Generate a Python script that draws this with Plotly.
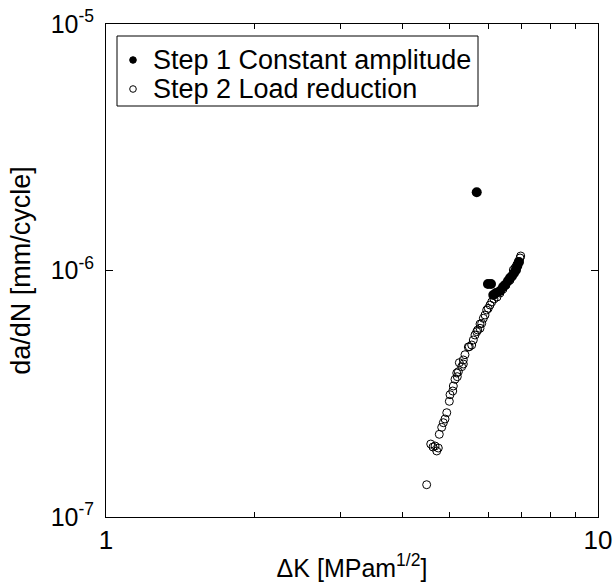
import plotly.graph_objects as go

# Step 1: constant amplitude (filled markers)
dK_step1 = [5.669, 5.975, 6.060, 6.126, 6.204, 6.321, 6.411, 6.471, 6.562,
            6.625, 6.688, 6.751, 6.813, 6.855, 6.910]
dadN_step1 = [2.076e-6, 8.815e-7, 8.815e-7, 7.955e-7, 8.104e-7, 8.257e-7,
              8.572e-7, 8.734e-7, 9.066e-7, 9.324e-7, 9.500e-7, 9.770e-7,
              1.005e-6, 1.043e-6, 1.083e-6]

# Step 2: load reduction (open markers)
dK_step2 = [4.485, 4.571, 4.620, 4.664, 4.701, 4.736, 4.758, 4.812, 4.849,
            4.887, 4.927, 4.987, 5.003, 5.067, 5.081, 5.121, 5.163, 5.176,
            5.202, 5.226, 5.284, 5.324, 5.324, 5.366, 5.450, 5.475, 5.537,
            5.579, 5.623, 5.669, 5.696, 5.757, 5.757, 5.803, 5.847, 5.893,
            5.940, 5.984, 6.032, 6.080, 6.146, 6.233, 6.321, 6.411, 6.502,
            6.625, 6.728, 6.782, 6.837, 6.887, 6.943, 6.965]
dadN_step2 = [1.352e-7, 1.977e-7, 1.923e-7, 1.941e-7, 1.853e-7, 1.905e-7,
              2.165e-7, 2.311e-7, 2.413e-7, 2.498e-7, 2.649e-7, 2.947e-7,
              3.134e-7, 3.245e-7, 3.400e-7, 3.619e-7, 3.838e-7, 3.709e-7,
              3.885e-7, 4.227e-7, 4.072e-7, 4.175e-7, 4.335e-7, 4.554e-7,
              4.894e-7, 4.908e-7, 4.986e-7, 5.225e-7, 5.474e-7, 5.646e-7,
              5.737e-7, 5.829e-7, 6.067e-7, 6.106e-7, 6.398e-7, 6.599e-7,
              6.916e-7, 7.026e-7, 7.244e-7, 7.451e-7, 7.663e-7, 7.807e-7,
              8.104e-7, 8.413e-7, 8.734e-7, 9.151e-7, 1.005e-6, 1.024e-6,
              1.053e-6, 1.086e-6, 1.124e-6, 1.145e-6]

x_tickvals = [1, 2, 3, 4, 5, 6, 7, 8, 9, 10]
x_ticktext = ["1", "", "", "", "", "", "", "", "", "10"]
y_tickvals = [1e-7, 1e-6, 1e-5]
y_ticktext = ["10<sup>-7</sup>", "10<sup>-6</sup>", "10<sup>-5</sup>"]

legend_names = ["Step 1 Constant amplitude", "Step 2 Load reduction"]

FONT = "Liberation Sans, Arial, Helvetica, sans-serif"

# plot area in pixels (for the compact, MATLAB-like legend box layout)
W, H = 613, 582
ML, MR, MT, MB = 106, 15, 24, 65
PW, PH = W - ML - MR, H - MT - MB


def px_x(p):
    return (p - ML) / PW


def px_y(p):
    return (H - MB - p) / PH


fig = go.Figure()

fig.add_trace(go.Scatter(
    x=dK_step2, y=dadN_step2, mode="markers", name=legend_names[1],
    showlegend=False,
    marker=dict(symbol="circle-open", size=8, color="black",
                line=dict(width=1, color="black")),
))
fig.add_trace(go.Scatter(
    x=dK_step1, y=dadN_step1, mode="markers", name=legend_names[0],
    showlegend=False,
    marker=dict(symbol="circle", size=10, color="black"),
))

# compact legend: box, symbols and labels
shapes = [dict(type="rect", xref="paper", yref="paper",
               x0=px_x(117), x1=px_x(478), y0=px_y(106), y1=px_y(36),
               line=dict(color="black", width=1), fillcolor="white", layer="above")]
rows_y = [60, 89]
fills = ["black", "white"]
annotations = []
for name, ry, fc in zip(legend_names, rows_y, fills):
    r = 3.3
    shapes.append(dict(type="circle", xref="paper", yref="paper",
                       x0=px_x(133 - r), x1=px_x(133 + r),
                       y0=px_y(ry + r), y1=px_y(ry - r),
                       line=dict(color="black", width=1), fillcolor=fc, layer="above"))
    annotations.append(dict(xref="paper", yref="paper", x=px_x(151), y=px_y(ry),
                            xanchor="left", yanchor="middle", showarrow=False,
                            text=name, font=dict(family=FONT, size=27, color="black")))

fig.update_layout(
    width=W, height=H,
    margin=dict(l=ML, r=MR, t=MT, b=MB),
    paper_bgcolor="white", plot_bgcolor="white",
    font=dict(family=FONT, size=24, color="black"),
    showlegend=False,
    shapes=shapes,
    annotations=annotations,
    xaxis=dict(
        type="log", range=[0, 1], automargin=False,
        tickvals=x_tickvals, ticktext=x_ticktext,
        ticks="inside", ticklen=5, tickcolor="black", tickwidth=1,
        showline=True, linecolor="black", linewidth=1, mirror="allticks",
        showgrid=False, zeroline=False,
        tickfont=dict(size=26),
        title=dict(text="ΔK [MPam<sup>1/2</sup>]", font=dict(size=25), standoff=6),
    ),
    yaxis=dict(
        type="log", range=[-7, -5], automargin=False,
        tickvals=y_tickvals, ticktext=y_ticktext,
        ticks="inside", ticklen=7, tickcolor="black", tickwidth=1,
        showline=True, linecolor="black", linewidth=1, mirror="allticks",
        showgrid=False, zeroline=False,
        tickfont=dict(size=25), ticklabelstandoff=6,
        title=dict(text="da/dN [mm/cycle]", font=dict(size=27), standoff=12),
    ),
)

fig.write_html("out.html")
